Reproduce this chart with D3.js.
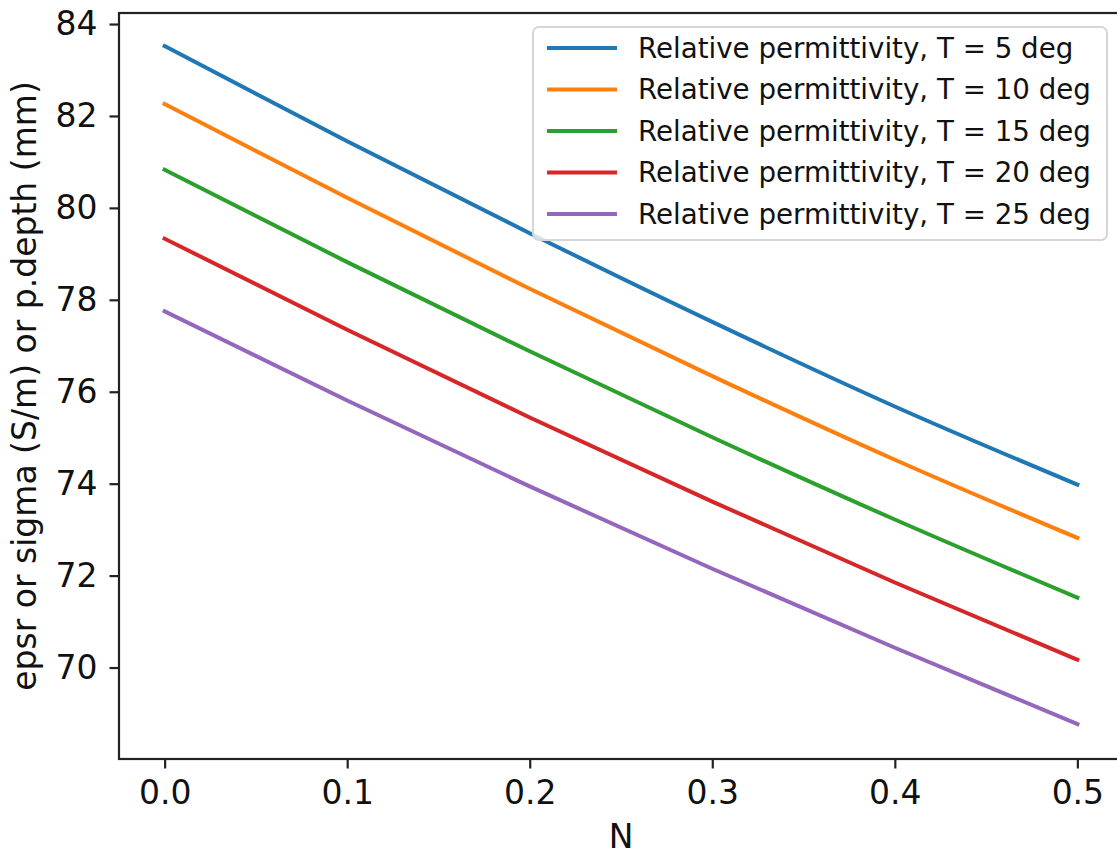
<!DOCTYPE html>
<html>
<head>
<meta charset="utf-8">
<script src="https://cdn.jsdelivr.net/npm/d3@7"></script>
<style>
  html, body { margin: 0; padding: 0; background: #fff; }
  svg { display: block; font-family: "DejaVu Sans", sans-serif; }
</style>
</head>
<body>
<svg id="chart"></svg>
<script>
// N values (x axis)
const nValues = [0.0, 0.1, 0.2, 0.3, 0.4, 0.5];

// relative permittivity, one array per temperature
const eps5 = [83.52, 81.45, 79.45, 77.52, 75.68, 73.98];
const eps10 = [82.26, 80.22, 78.24, 76.34, 74.52, 72.82];
const eps15 = [80.83, 78.82, 76.88, 75.01, 73.22, 71.52];
const eps20 = [79.33, 77.35, 75.44, 73.61, 71.85, 70.17];
const eps25 = [77.75, 75.81, 73.94, 72.15, 70.43, 68.77];

const seriesNames = [
  "Relative permittivity, T = 5 deg",
  "Relative permittivity, T = 10 deg",
  "Relative permittivity, T = 15 deg",
  "Relative permittivity, T = 20 deg",
  "Relative permittivity, T = 25 deg",
];
const colors = ["#1f77b4", "#ff7f0e", "#2ca02c", "#d62728", "#9467bd"];

const xTicks = [0.0, 0.1, 0.2, 0.3, 0.4, 0.5];
const yTicks = [70, 72, 74, 76, 78, 80, 82, 84];

const width = 1117;
const height = 856;

const svg = d3.select("#chart")
  .attr("width", width)
  .attr("height", height);

const plot = { left: 119, right: 1123, top: 13, bottom: 759 };

const x = d3.scaleLinear()
  .domain([-0.025, 0.525])
  .range([plot.left, plot.right]);

const y = d3.scaleLinear()
  .domain([68.01, 84.24])
  .range([plot.bottom, plot.top]);

const series = [eps5, eps10, eps15, eps20, eps25].map((vals, i) => ({
  name: seriesNames[i],
  color: colors[i],
  values: vals,
}));

const line = d3.line()
  .x((d, i) => x(nValues[i]))
  .y((d) => y(d))
  .curve(d3.curveMonotoneX);

svg.append("g")
  .selectAll("path")
  .data(series)
  .enter()
  .append("path")
  .attr("fill", "none")
  .attr("stroke", (d) => d.color)
  .attr("stroke-width", 4)
  .attr("stroke-linecap", "square")
  .attr("d", (d) => line(d.values));

// axes
const xAxis = svg.append("g")
  .attr("transform", `translate(0,${plot.bottom})`)
  .call(d3.axisBottom(x).tickValues(xTicks).tickFormat(d3.format(".1f")).tickSize(9.5).tickPadding(12).tickSizeOuter(0));

const yAxis = svg.append("g")
  .attr("transform", `translate(${plot.left},0)`)
  .call(d3.axisLeft(y).tickValues(yTicks).tickFormat(d3.format("d")).tickSize(9.5).tickPadding(12).tickSizeOuter(0));

[xAxis, yAxis].forEach((g) => {
  g.select(".domain").remove();
  g.selectAll(".tick line").attr("stroke", "#222").attr("stroke-width", 2.2);
  g.selectAll(".tick text")
    .attr("fill", "#111")
    .style("font-family", "DejaVu Sans")
    .style("font-size", "33px");
});

// frame
svg.append("rect")
  .attr("x", plot.left)
  .attr("y", plot.top)
  .attr("width", plot.right - plot.left)
  .attr("height", plot.bottom - plot.top)
  .attr("fill", "none")
  .attr("stroke", "#222")
  .attr("stroke-width", 2.2);

// axis labels
svg.append("text")
  .attr("x", (plot.left + plot.right) / 2)
  .attr("y", 848)
  .attr("text-anchor", "middle")
  .attr("fill", "#111")
  .style("font-size", "33px")
  .text("N");

svg.append("text")
  .attr("transform", `translate(36,${(plot.top + plot.bottom) / 2}) rotate(-90)`)
  .attr("text-anchor", "middle")
  .attr("fill", "#111")
  .style("font-size", "33px")
  .text("epsr or sigma (S/m) or p.depth (mm)");

// legend
const legend = svg.append("g");
legend.append("rect")
  .attr("x", 533)
  .attr("y", 27)
  .attr("width", 574)
  .attr("height", 213)
  .attr("rx", 6)
  .attr("fill", "#fff")
  .attr("fill-opacity", 0.8)
  .attr("stroke", "#d6d6d6")
  .attr("stroke-width", 2);

const rows = legend.selectAll("g.row")
  .data(series)
  .enter()
  .append("g")
  .attr("class", "row")
  .attr("transform", (d, i) => `translate(0,${48 + i * 41.5})`);

rows.append("line")
  .attr("x1", 547)
  .attr("x2", 617)
  .attr("stroke", (d) => d.color)
  .attr("stroke-width", 4);

rows.append("text")
  .attr("x", 638)
  .attr("dy", "0.36em")
  .attr("fill", "#111")
  .style("font-size", "27.7px")
  .text((d) => d.name);
</script>
</body>
</html>
